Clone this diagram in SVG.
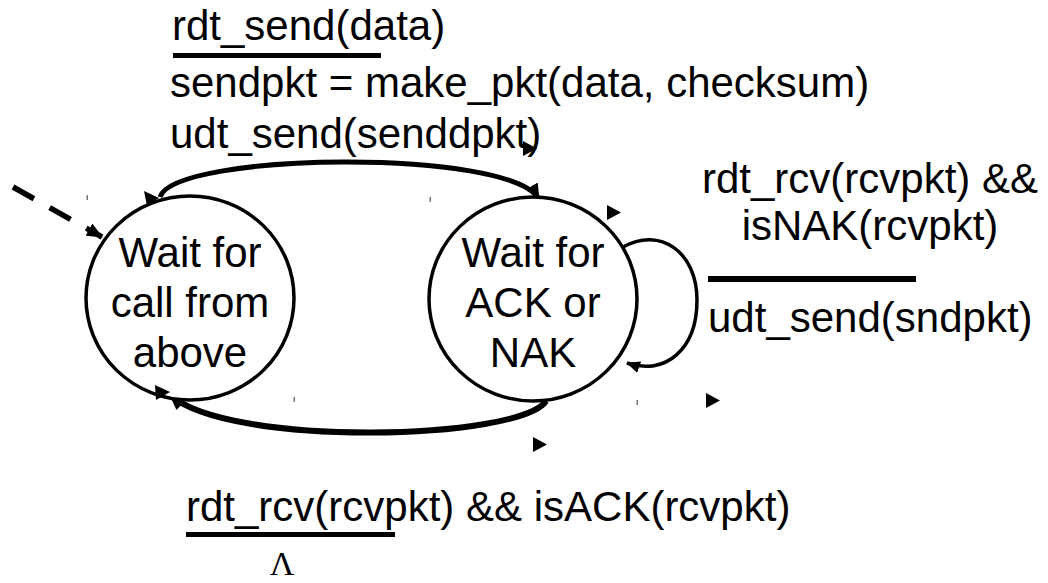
<svg xmlns="http://www.w3.org/2000/svg" width="1048" height="583" viewBox="0 0 1048 583">
<style>
  .t { font-family: "Liberation Sans", Arial, sans-serif; font-size: 42px; fill: #000; }
  .c { text-anchor: middle; }
  .state { fill: #fff; stroke: #000; stroke-width: 3.5; }
  .edge { fill: none; stroke: #000; }
  .bar { fill: #000; }
  .tri { fill: #000; }
  .tick { fill: #777; }
</style>
<defs>
  <marker id="ah" markerUnits="userSpaceOnUse" viewBox="0 0 16 14" refX="15" refY="7" markerWidth="16" markerHeight="14" orient="auto">
    <path d="M0,0 L16,7 L0,14 z" fill="#000"/>
  </marker>
  <marker id="ahs" markerUnits="userSpaceOnUse" viewBox="0 0 16 14" refX="15" refY="7" markerWidth="14" markerHeight="12" orient="auto">
    <path d="M0,0 L16,7 L0,14 z" fill="#000"/>
  </marker>
  <path id="stray" d="M0,0 L14,7.5 L0,15 z"/>
</defs>

<g id="connectors">
  <path id="init" class="edge" d="M13,187 L102,237" stroke-width="5.5" stroke-dasharray="24,18" marker-end="url(#ah)"/>
  <path id="send" class="edge" d="M160,197 C175,152 510,148 539,199" stroke-width="5" marker-end="url(#ah)"/>
  <path id="ack" class="edge" d="M546,401 C520,440 230,448 170,395" stroke-width="6" marker-end="url(#ah)"/>
  <path id="nak" class="edge" d="M623,247 C660,226 697,252 697,300 C697,350 665,376 627,363" stroke-width="3.5" marker-end="url(#ahs)"/>
</g>

<g id="state-wait-call">
  <ellipse class="state" cx="190" cy="298" rx="104" ry="102"/>
  <text class="t c" x="190" y="267">Wait for</text>
  <text class="t c" x="190" y="317">call from</text>
  <text class="t c" x="190" y="367">above</text>
</g>

<g id="state-wait-ack">
  <ellipse class="state" cx="533" cy="299" rx="104" ry="102"/>
  <text class="t c" x="533" y="267">Wait for</text>
  <text class="t c" x="533" y="317">ACK or</text>
  <text class="t c" x="533" y="367">NAK</text>
</g>

<g id="label-send">
  <text class="t" x="172" y="40">rdt_send(data)</text>
  <rect class="bar" x="173" y="53" width="208" height="5"/>
  <text class="t" x="170" y="97">sendpkt = make_pkt(data, checksum)</text>
  <text class="t" x="170" y="148">udt_send(senddpkt)</text>
</g>

<g id="label-nak">
  <text class="t c" x="870" y="193">rdt_rcv(rcvpkt) &amp;&amp;</text>
  <text class="t c" x="870" y="240">isNAK(rcvpkt)</text>
  <rect class="bar" x="708" y="276" width="208" height="6"/>
  <text class="t" x="708" y="332">udt_send(sndpkt)</text>
</g>

<g id="label-ack">
  <text class="t" x="186" y="521">rdt_rcv(rcvpkt) &amp;&amp; isACK(rcvpkt)</text>
  <rect class="bar" x="186" y="532" width="209" height="5"/>
  <text x="282" y="575" text-anchor="middle" font-family="'Liberation Serif', 'Times New Roman', serif" font-size="34">Λ</text>
</g>

<g id="artifacts">
  <use href="#stray" class="tri" x="523" y="141"/>
  <use href="#stray" class="tri" x="607" y="205"/>
  <use href="#stray" class="tri" x="706" y="393"/>
  <use href="#stray" class="tri" x="533" y="437"/>
  <path class="tri" d="M144,191 L159,198 L147,206 z"/>
  <path class="tri" d="M155,385 L170,392 L156,400 z"/>
  <rect class="tick" x="86.5" y="195" width="1.5" height="5"/>
  <rect class="tick" x="429.5" y="197" width="1.5" height="5"/>
  <rect class="tick" x="293.5" y="397" width="1.5" height="5"/>
  <rect class="tick" x="636.5" y="400" width="1.5" height="5"/>
</g>
</svg>
